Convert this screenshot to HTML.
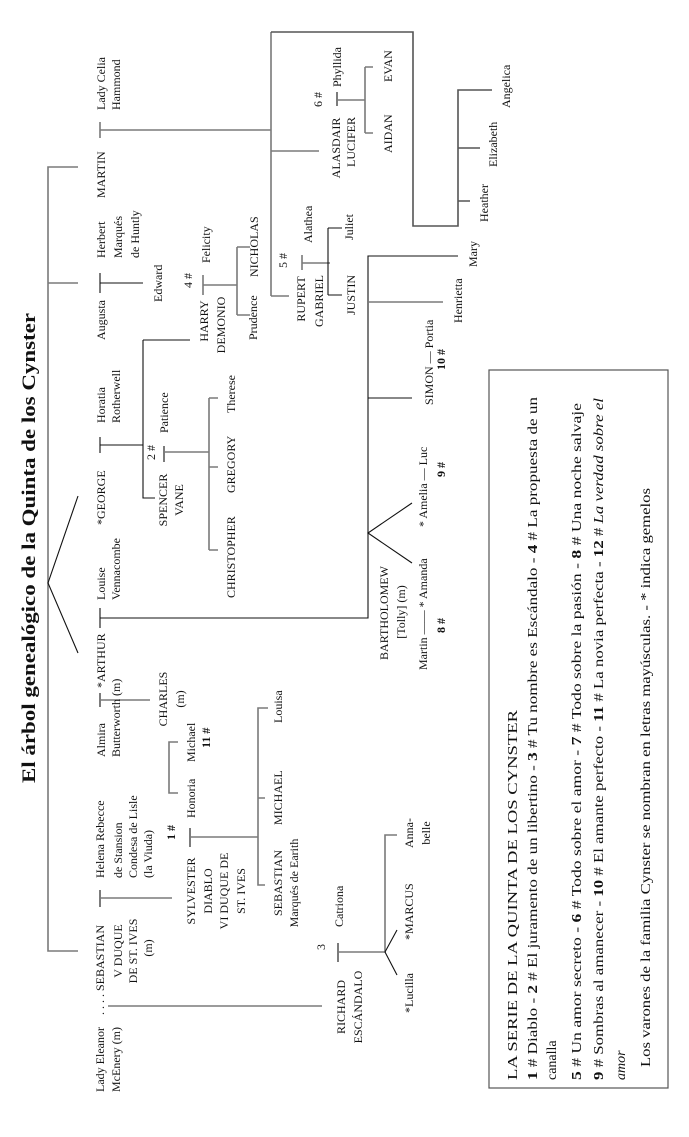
<!DOCTYPE html>
<html><head><meta charset="utf-8"><style>
html,body{margin:0;padding:0;background:#fff;}
svg{display:block;}
text{font-family:"Liberation Serif",serif;font-size:12px;fill:#111;}
.l{stroke:#7a7a7a;stroke-width:1.6;fill:none;}
.k{stroke:#111;stroke-width:1.1;fill:none;}
.m{text-anchor:middle;}
.lg{font-size:14px;}
</style></head><body>
<svg width="689" height="1137" viewBox="0 0 689 1137" xmlns="http://www.w3.org/2000/svg">
<text transform="translate(35,783) rotate(-90)" style="font-size:19px;font-weight:bold" textLength="470" lengthAdjust="spacingAndGlyphs">El árbol genealógico de la Quinta de los Cynster</text>

<path class="l" d="M78,167 H48 V951 H78"/>
<path class="l" d="M48,283 H78"/>
<path class="k" d="M78,496 L48,583 L78,653"/>

<path class="l" d="M100,122 V138 M100,130 H271 M271,32 V296 M271,151 H319 M271,296 H289"/>
<path class="l" d="M271,32 H413 V226 H458 V90 H492 M458,148 H480 M458,201 H470" style="stroke:#555"/>
<path class="k" d="M337,92 V106"/>
<path class="l" d="M337,100 H365 M365,67 V133 M365,67 H373 M365,133 H373"/>

<path class="k" d="M100,273 V293 M100,283 H143"/>
<path class="k" d="M143,340 H190 M143,340 V498 H155"/>
<path class="l" d="M203,275 V295 M203,285 H237 M237,247 V315 M237,247 H250 M237,315 H250"/>
<path class="l" d="M302,255 V270 M302,263 H330"/>
<path class="k" d="M328,228 V295 M328,228 H342 M328,295 H342"/>

<path class="k" d="M100,437 V453 M100,445 H143"/>
<path class="k" d="M164,446 V462"/>
<path class="l" d="M164,452 H209 M209,398 V550 M209,398 H218 M209,467 H218 M209,550 H218"/>

<path class="k" d="M100,608 V628 M100,618 H368 V256 H458"/>
<path class="l" d="M368,302 H443"/>
<path class="k" d="M368,398 H412"/>
<path class="k" d="M412,503 L368,533 L412,563"/>
<path class="k" d="M100,693 V707"/>
<path class="l" d="M100,700 H150"/>
<path class="l" d="M178,742 H169 V793 H178"/>

<path class="k" d="M100,890 V907"/>
<path class="l" d="M100,898 H172"/>
<path class="k" d="M190,828 V847"/>
<path class="l" d="M190,837 H258 M268,708 H258 V885 H265 M258,798 H265"/>
<path class="l" d="M108,1006 H322"/>
<path class="k" d="M338,943 V962"/>
<path class="l" d="M338,952 H385 V835 H397"/>
<path class="k" d="M397,930 L385,952 L397,975"/>

<rect x="489" y="370" width="179" height="718" fill="none" stroke="#555" stroke-width="1.2"/>

<text transform="translate(105,110) rotate(-90)">Lady Celia</text>
<text transform="translate(120,110) rotate(-90)">Hammond</text>
<text transform="translate(105,198) rotate(-90)">MARTIN</text>
<text transform="translate(322,107) rotate(-90)">6 #</text>
<text class="m" transform="translate(340,148) rotate(-90)">ALASDAIR</text>
<text class="m" transform="translate(355,142) rotate(-90)">LUCIFER</text>
<text transform="translate(341,87) rotate(-90)">Phyllida</text>
<text transform="translate(392,82) rotate(-90)">EVAN</text>
<text transform="translate(392,153) rotate(-90)">AIDAN</text>
<text transform="translate(488,222) rotate(-90)">Heather</text>
<text transform="translate(497,167) rotate(-90)">Elizabeth</text>
<text transform="translate(510,108) rotate(-90)">Angelica</text>

<text transform="translate(105,340) rotate(-90)">Augusta</text>
<text transform="translate(105,258) rotate(-90)">Herbert</text>
<text transform="translate(122,258) rotate(-90)">Marqués</text>
<text transform="translate(139,258) rotate(-90)">de Huntly</text>
<text transform="translate(162,302) rotate(-90)">Edward</text>

<text transform="translate(192,288) rotate(-90)">4 #</text>
<text class="m" transform="translate(208,321) rotate(-90)">HARRY</text>
<text class="m" transform="translate(225,325) rotate(-90)">DEMONIO</text>
<text transform="translate(210,263) rotate(-90)">Felicity</text>
<text transform="translate(258,277) rotate(-90)">NICHOLAS</text>
<text transform="translate(257,340) rotate(-90)">Prudence</text>

<text transform="translate(287,268) rotate(-90)">5 #</text>
<text class="m" transform="translate(305,299) rotate(-90)">RUPERT</text>
<text class="m" transform="translate(323,301) rotate(-90)">GABRIEL</text>
<text transform="translate(312,243) rotate(-90)">Alathea</text>
<text transform="translate(353,240) rotate(-90)">Juliet</text>
<text transform="translate(355,315) rotate(-90)">JUSTIN</text>
<text transform="translate(477,267) rotate(-90)">Mary</text>
<text transform="translate(462,323) rotate(-90)">Henrietta</text>
<text transform="translate(433,405) rotate(-90)">SIMON — Portia</text>
<text transform="translate(445,370) rotate(-90)" style="font-weight:bold">10 #</text>

<text transform="translate(105,423) rotate(-90)">Horatia</text>
<text transform="translate(120,423) rotate(-90)">Rotherwell</text>
<text transform="translate(105,525) rotate(-90)">*GEORGE</text>
<text transform="translate(155,460) rotate(-90)">2 #</text>
<text class="m" transform="translate(167,500) rotate(-90)">SPENCER</text>
<text class="m" transform="translate(183,500) rotate(-90)">VANE</text>
<text transform="translate(168,433) rotate(-90)">Patience</text>
<text transform="translate(235,413) rotate(-90)">Therese</text>
<text transform="translate(235,493) rotate(-90)">GREGORY</text>
<text transform="translate(235,598) rotate(-90)">CHRISTOPHER</text>

<text transform="translate(105,600) rotate(-90)">Louise</text>
<text transform="translate(120,600) rotate(-90)">Vennacombe</text>
<text transform="translate(105,688) rotate(-90)">*ARTHUR</text>
<text transform="translate(105,757) rotate(-90)">Almira</text>
<text transform="translate(120,757) rotate(-90)">Butterworth (m)</text>
<text class="m" transform="translate(167,699) rotate(-90)">CHARLES</text>
<text class="m" transform="translate(184,699) rotate(-90)">(m)</text>
<text transform="translate(195,762) rotate(-90)">Michael</text>
<text transform="translate(210,748) rotate(-90)" style="font-weight:bold">11 #</text>
<text transform="translate(195,818) rotate(-90)">Honoria</text>
<text transform="translate(282,723) rotate(-90)">Louisa</text>
<text transform="translate(282,825) rotate(-90)">MICHAEL</text>
<text class="m" transform="translate(388,613) rotate(-90)">BARTHOLOMEW</text>
<text class="m" transform="translate(405,612) rotate(-90)">[Tolly] (m)</text>
<text transform="translate(427,670) rotate(-90)">Martin —— * Amanda</text>
<text transform="translate(445,633) rotate(-90)" style="font-weight:bold">8 #</text>
<text transform="translate(427,527) rotate(-90)">* Amelia — Luc</text>
<text transform="translate(445,477) rotate(-90)" style="font-weight:bold">9 #</text>

<text transform="translate(104,878) rotate(-90)">Helena Rebecce</text>
<text transform="translate(122,878) rotate(-90)">de Stansion</text>
<text transform="translate(137,878) rotate(-90)">Condesa de Lisle</text>
<text transform="translate(152,878) rotate(-90)">(la Viuda)</text>
<text transform="translate(175,840) rotate(-90)" style="font-weight:bold">1 #</text>
<text class="m" transform="translate(195,891) rotate(-90)">SYLVESTER</text>
<text class="m" transform="translate(212,891) rotate(-90)">DIABLO</text>
<text class="m" transform="translate(228,891) rotate(-90)">VI DUQUE DE</text>
<text class="m" transform="translate(245,891) rotate(-90)">ST. IVES</text>
<text class="m" transform="translate(282,883) rotate(-90)">SEBASTIAN</text>
<text class="m" transform="translate(298,883) rotate(-90)">Marqués de Earith</text>
<text transform="translate(104,1015) rotate(-90)">. . . . SEBASTIAN</text>
<text class="m" transform="translate(122,951) rotate(-90)">V DUQUE</text>
<text class="m" transform="translate(137,951) rotate(-90)">DE ST. IVES</text>
<text class="m" transform="translate(152,948) rotate(-90)">(m)</text>
<text transform="translate(104,1092) rotate(-90)">Lady Eleanor</text>
<text transform="translate(120,1092) rotate(-90)">McEnery (m)</text>
<text transform="translate(325,950) rotate(-90)">3</text>
<text class="m" transform="translate(345,1007) rotate(-90)">RICHARD</text>
<text class="m" transform="translate(362,1007) rotate(-90)">ESCÁNDALO</text>
<text transform="translate(343,927) rotate(-90)">Catriona</text>
<text transform="translate(413,940) rotate(-90)">*MARCUS</text>
<text transform="translate(413,1013) rotate(-90)">*Lucilla</text>
<text class="m" transform="translate(413,833) rotate(-90)">Anna-</text>
<text class="m" transform="translate(430,833) rotate(-90)">belle</text>

<text class="lg" transform="translate(517,1080) rotate(-90)" textLength="370" lengthAdjust="spacingAndGlyphs">LA SERIE DE LA QUINTA DE LOS CYNSTER</text>
<text class="lg" transform="translate(537,1080) rotate(-90)" textLength="683" lengthAdjust="spacingAndGlyphs"><tspan font-weight="bold">1</tspan> # Diablo - <tspan font-weight="bold">2</tspan> # El juramento de un libertino - <tspan font-weight="bold">3</tspan> # Tu nombre es Escándalo - <tspan font-weight="bold">4</tspan> # La propuesta de un</text>
<text class="lg" transform="translate(556,1080) rotate(-90)">canalla</text>
<text class="lg" transform="translate(581,1080) rotate(-90)" textLength="677" lengthAdjust="spacingAndGlyphs"><tspan font-weight="bold">5</tspan> # Un amor secreto - <tspan font-weight="bold">6</tspan> # Todo sobre el amor - <tspan font-weight="bold">7</tspan> # Todo sobre la pasión - <tspan font-weight="bold">8</tspan> # Una noche salvaje</text>
<text class="lg" transform="translate(603,1080) rotate(-90)" textLength="682" lengthAdjust="spacingAndGlyphs"><tspan font-weight="bold">9</tspan> # Sombras al amanecer - <tspan font-weight="bold">10</tspan> # El amante perfecto - <tspan font-weight="bold">11</tspan> # La novia perfecta - <tspan font-weight="bold">12</tspan> # <tspan font-style="italic">La verdad sobre el</tspan></text>
<text class="lg" transform="translate(625,1080) rotate(-90)" font-style="italic">amor</text>
<text class="lg" transform="translate(650,1067) rotate(-90)" textLength="579" lengthAdjust="spacingAndGlyphs">Los varones de la familia Cynster se nombran en letras mayúsculas. - * indica gemelos</text>
</svg>
</body></html>
